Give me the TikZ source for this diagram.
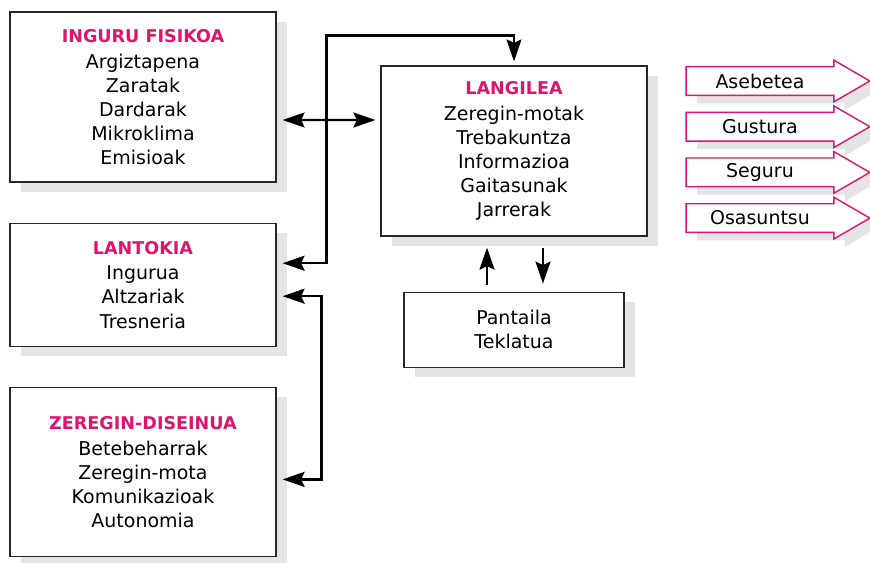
\documentclass[tikz,border=0pt]{standalone}
\usepackage{fontspec}
\setmainfont{DejaVu Sans}
\usetikzlibrary{arrows.meta, positioning, backgrounds, shadows}
\definecolor{titlepink}{RGB}{222,20,110}
\definecolor{shadowgray}{RGB}{228,228,228}

\newcommand{\boxtitle}[1]{{\fontsize{10}{13.7}\selectfont\bfseries\color{titlepink}#1}}

\begin{document}
\begin{tikzpicture}[
    x=0.02cm, y=-0.02cm,
    node distance=0.8cm,
    grayshadow/.style={drop shadow={shadow xshift=0.22cm, shadow yshift=-0.2cm, fill=shadowgray, opacity=1}},
    infobox/.style={draw=black!85, line width=0.7pt, fill=white, grayshadow, minimum width=5.32cm, align=center, font=\fontsize{10.8}{13.7}\selectfont},
    outcome/.style={minimum width=2.94cm, minimum height=0.56cm, inner sep=0pt, font=\fontsize{10.8}{13.7}\selectfont},
    outcomearrow/.style={draw=titlepink, line width=0.8pt, fill=white, drop shadow={shadow xshift=0.22cm, shadow yshift=-0.16cm, fill=shadowgray, opacity=1}},
    arrow/.style={-{Stealth[length=0.44cm, width=0.3cm, inset=0.07cm]}, line width=1.3pt},
    dualarrow/.style={{Stealth[length=0.44cm, width=0.3cm, inset=0.07cm]}-{Stealth[length=0.44cm, width=0.3cm, inset=0.07cm]}, line width=1.3pt}
]
\useasboundingbox (0,0) rectangle (870,562);

% Boxes
\node[infobox, minimum height=3.4cm] (fisikoa) at (143,97) {\boxtitle{INGURU FISIKOA}\\[1pt] Argiztapena\\ Zaratak\\ Dardarak\\ Mikroklima\\ Emisioak};
\node[infobox, minimum height=2.46cm, below=of fisikoa] (lantokia) {\boxtitle{LANTOKIA}\\[1pt] Ingurua\\ Altzariak\\ Tresneria};
\node[infobox, minimum height=3.38cm, below=of lantokia] (zeregin) {\boxtitle{ZEREGIN-DISEINUA}\\[1pt] Betebeharrak\\ Zeregin-mota\\ Komunikazioak\\ Autonomia};
\node[infobox, minimum height=3.4cm] (langilea) at (514,151) {\boxtitle{LANGILEA}\\[1pt] Zeregin-motak\\ Trebakuntza\\ Informazioa\\ Gaitasunak\\ Jarrerak};
\node[infobox, minimum width=4.4cm, minimum height=1.5cm, below=1.1cm of langilea] (pantaila) {Pantaila\\ Teklatua};

% Outcomes
\node[outcome] (asebetea) at (760,81) {Asebetea};
\node[outcome, below=0.34cm of asebetea] (gustura) {Gustura};
\node[outcome, below=0.34cm of gustura] (seguru) {Seguru};
\node[outcome, below=0.34cm of seguru] (osasuntsu) {Osasuntsu};

\begin{scope}[on background layer]
\foreach \n in {asebetea,gustura,seguru,osasuntsu}
  \draw[outcomearrow] (\n.north west) -- (\n.north east) -- ([yshift=0.13cm]\n.north east)
    -- ([xshift=0.72cm]\n.east) -- ([yshift=-0.13cm]\n.south east) -- (\n.south east)
    -- (\n.south west) -- cycle;
\end{scope}

% Connectors
\draw[dualarrow, shorten <=0.12cm, shorten >=0.1cm] ([yshift=-0.46cm]fisikoa.east) -- ([yshift=0.62cm]langilea.west);
\draw[dualarrow, shorten <=0.12cm, shorten >=0.08cm] ([yshift=0.43cm]lantokia.east) -- ++(50,0) |- ([yshift=0.6cm]langilea.north) -- (langilea.north);
\draw[dualarrow, shorten <=0.12cm, shorten >=0.12cm] ([yshift=-0.23cm]lantokia.east) -- ++(45,0) |- ([yshift=-0.15cm]zeregin.east);
\draw[arrow, shorten <=0.14cm, shorten >=0.22cm] ([xshift=-0.54cm]pantaila.north) -- ([xshift=-0.54cm]langilea.south);
\draw[arrow, shorten <=0.22cm, shorten >=0.16cm] ([xshift=0.58cm]langilea.south) -- ([xshift=0.58cm]pantaila.north);

\end{tikzpicture}
\end{document}
